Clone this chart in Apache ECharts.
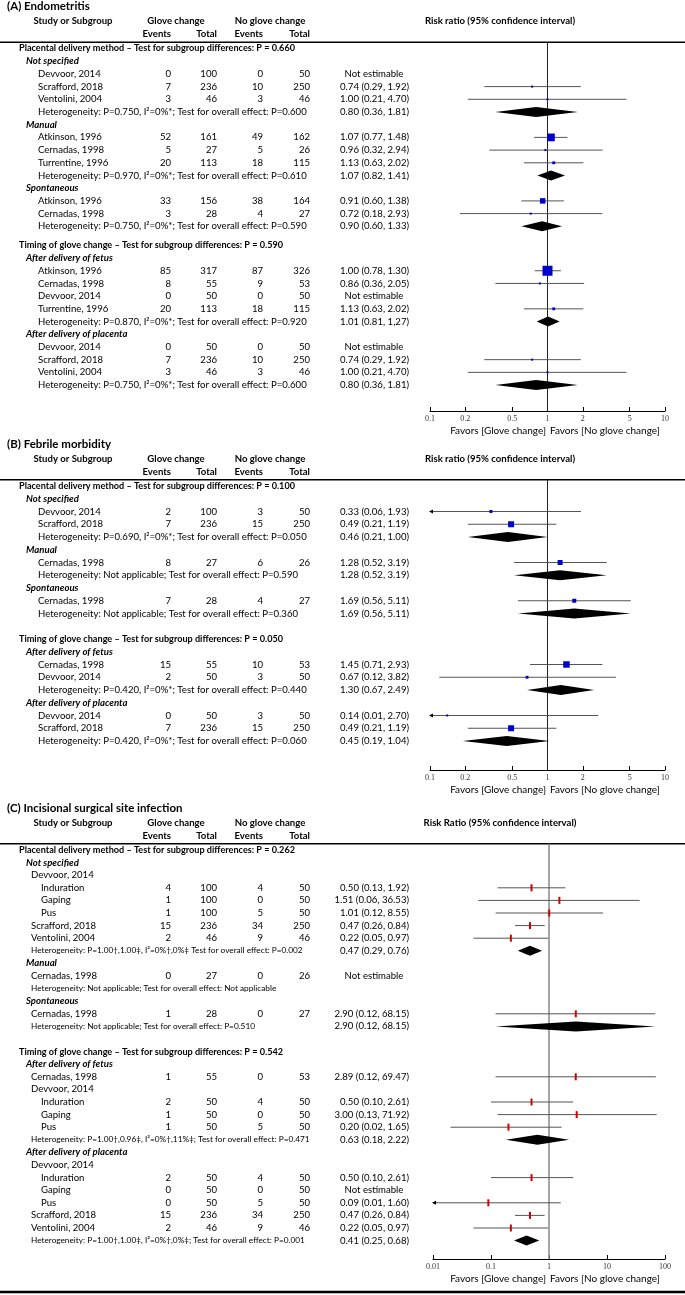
<!DOCTYPE html>
<html><head><meta charset="utf-8">
<script src="https://cdn.jsdelivr.net/npm/echarts/dist/echarts.min.js"></script>
<style>html,body{margin:0;padding:0;background:#fff}#c{width:685px;height:1295px}</style>
</head><body><div id="c"></div>
<script>
const n = null;
// ---------------- Panel A: Endometritis ----------------
const A_title = '(A) Endometritis';
const A_axisTitle = 'Risk ratio (95% confidence interval)';
const A_type = ['H','S','R','R','R','T','S','R','R','R','T','S','R','R','T','H','S','R','R','R','R','T','S','R','R','R','T'];
const A_label = ['Placental delivery method – Test for subgroup differences: P = 0.660','Not specified','Devvoor, 2014','Scrafford, 2018','Ventolini, 2004','Heterogeneity: P=0.750, I²=0%*; Test for overall effect: P=0.600','Manual','Atkinson, 1996','Cernadas, 1998','Turrentine, 1996','Heterogeneity: P=0.970, I²=0%*; Test for overall effect: P=0.610','Spontaneous','Atkinson, 1996','Cernadas, 1998','Heterogeneity: P=0.750, I²=0%*; Test for overall effect: P=0.590','Timing of glove change – Test for subgroup differences: P = 0.590','After delivery of fetus','Atkinson, 1996','Cernadas, 1998','Devvoor, 2014','Turrentine, 1996','Heterogeneity: P=0.870, I²=0%*; Test for overall effect: P=0.920','After delivery of placenta','Devvoor, 2014','Scrafford, 2018','Ventolini, 2004','Heterogeneity: P=0.750, I²=0%*; Test for overall effect: P=0.600'];
const A_gEv  = [n,n,0,7,3,n,n,52,5,20,n,n,33,3,n,n,n,85,8,0,20,n,n,0,7,3,n];
const A_gTot = [n,n,100,236,46,n,n,161,27,113,n,n,156,28,n,n,n,317,55,50,113,n,n,50,236,46,n];
const A_nEv  = [n,n,0,10,3,n,n,49,5,18,n,n,38,4,n,n,n,87,9,0,18,n,n,0,10,3,n];
const A_nTot = [n,n,50,250,46,n,n,162,26,115,n,n,164,27,n,n,n,326,53,50,115,n,n,50,250,46,n];
const A_rr = [n,n,n,0.74,1.00,0.80,n,1.07,0.96,1.13,1.07,n,0.91,0.72,0.90,n,n,1.00,0.86,n,1.13,1.01,n,n,0.74,1.00,0.80];
const A_lo = [n,n,n,0.29,0.21,0.36,n,0.77,0.32,0.63,0.82,n,0.60,0.18,0.60,n,n,0.78,0.36,n,0.63,0.81,n,n,0.29,0.21,0.36];
const A_hi = [n,n,n,1.92,4.70,1.81,n,1.48,2.94,2.02,1.41,n,1.38,2.93,1.33,n,n,1.30,2.05,n,2.02,1.27,n,n,1.92,4.70,1.81];
const A_weight = [n,n,n,4,4,n,n,60,4,8,n,n,30,4,n,n,n,100,4,n,8,n,n,n,4,4,n];
const A_ciOverride = {21:'1.01 (0.81, 1,27)'};
const A_ticks = [0.1,0.2,0.5,1,2,5,10];

// ---------------- Panel B: Febrile morbidity ----------------
const B_title = '(B) Febrile morbidity';
const B_axisTitle = 'Risk ratio (95% confidence interval)';
const B_type = ['H','S','R','R','T','S','R','T','S','R','T','H','S','R','R','T','S','R','R','T'];
const B_label = ['Placental delivery method – Test for subgroup differences: P = 0.100','Not specified','Devvoor, 2014','Scrafford, 2018','Heterogeneity: P=0.690, I²=0%*; Test for overall effect: P=0.050','Manual','Cernadas, 1998','Heterogeneity: Not applicable; Test for overall effect: P=0.590','Spontaneous','Cernadas, 1998','Heterogeneity: Not applicable; Test for overall effect: P=0.360','Timing of glove change – Test for subgroup differences: P = 0.050','After delivery of fetus','Cernadas, 1998','Devvoor, 2014','Heterogeneity: P=0.420, I²=0%*; Test for overall effect: P=0.440','After delivery of placenta','Devvoor, 2014','Scrafford, 2018','Heterogeneity: P=0.420, I²=0%*; Test for overall effect: P=0.060'];
const B_gEv  = [n,n,2,7,n,n,8,n,n,7,n,n,n,15,2,n,n,0,7,n];
const B_gTot = [n,n,100,236,n,n,27,n,n,28,n,n,n,55,50,n,n,50,236,n];
const B_nEv  = [n,n,3,15,n,n,6,n,n,4,n,n,n,10,3,n,n,3,15,n];
const B_nTot = [n,n,50,250,n,n,26,n,n,27,n,n,n,53,50,n,n,50,250,n];
const B_rr = [n,n,0.33,0.49,0.46,n,1.28,1.28,n,1.69,1.69,n,n,1.45,0.67,1.30,n,0.14,0.49,0.45];
const B_lo = [n,n,0.06,0.21,0.21,n,0.52,0.52,n,0.56,0.56,n,n,0.71,0.12,0.67,n,0.01,0.21,0.19];
const B_hi = [n,n,1.93,1.19,1.00,n,3.19,3.19,n,5.11,5.11,n,n,2.93,3.82,2.49,n,2.70,1.19,1.04];
const B_weight = [n,n,9,36,n,n,25,n,n,16,n,n,n,42,8,n,n,4,36,n];
const B_ciOverride = {};
const B_ticks = [0.1,0.2,0.5,1,2,5,10];

// ---------------- Panel C: Incisional surgical site infection ----------------
const C_title = '(C) Incisional surgical site infection';
const C_axisTitle = 'Risk Ratio (95% confidence interval)';
const C_type = ['H','S','R','R2','R2','R2','R','R','T','S','R','T','S','R','T','H','S','R','R','R2','R2','R2','T','S','R','R2','R2','R2','R','R','T'];
const C_label = ['Placental delivery method – Test for subgroup differences: P = 0.262','Not specified','Devvoor, 2014','Induration','Gaping','Pus','Scrafford, 2018','Ventolini, 2004','Heterogeneity: P=1.00†,1.00‡, I²=0%†,0%‡ Test for overall effect: P=0.002','Manual','Cernadas, 1998','Heterogeneity: Not applicable; Test for overall effect: Not applicable','Spontaneous','Cernadas, 1998','Heterogeneity: Not applicable; Test for overall effect: P=0.510','Timing of glove change – Test for subgroup differences: P = 0.542','After delivery of fetus','Cernadas, 1998','Devvoor, 2014','Induration','Gaping','Pus','Heterogeneity: P=1.00†,0.96‡, I²=0%†,11%‡; Test for overall effect: P=0.471','After delivery of placenta','Devvoor, 2014','Induration','Gaping','Pus','Scrafford, 2018','Ventolini, 2004','Heterogeneity: P=1.00†,1.00‡, I²=0%†,0%‡; Test for overall effect: P=0.001'];
const C_gEv  = [n,n,n,4,1,1,15,2,n,n,0,n,n,1,n,n,n,1,n,2,1,1,n,n,n,2,0,0,15,2,n];
const C_gTot = [n,n,n,100,100,100,236,46,n,n,27,n,n,28,n,n,n,55,n,50,50,50,n,n,n,50,50,50,236,46,n];
const C_nEv  = [n,n,n,4,0,5,34,9,n,n,0,n,n,0,n,n,n,0,n,4,0,5,n,n,n,4,0,5,34,9,n];
const C_nTot = [n,n,n,50,50,50,250,46,n,n,26,n,n,27,n,n,n,53,n,50,50,50,n,n,n,50,50,50,250,46,n];
const C_rr = [n,n,n,0.50,1.51,1.01,0.47,0.22,0.47,n,n,n,n,2.90,2.90,n,n,2.89,n,0.50,3.00,0.20,0.63,n,n,0.50,n,0.09,0.47,0.22,0.41];
const C_lo = [n,n,n,0.13,0.06,0.12,0.26,0.05,0.29,n,n,n,n,0.12,0.12,n,n,0.12,n,0.10,0.13,0.02,0.18,n,n,0.10,n,0.01,0.26,0.05,0.25];
const C_hi = [n,n,n,1.92,36.53,8.55,0.84,0.97,0.76,n,n,n,n,68.15,68.15,n,n,69.47,n,2.61,71.92,1.65,2.22,n,n,2.61,n,1.60,0.84,0.97,0.68];
const C_weight = C_rr.map(() => n);
const C_ciOverride = {};
const C_ticks = [0.01,0.1,1,10,100];

const favorsLeft = 'Favors [Glove change]';
const favorsRight = 'Favors [No glove change]';

// ---------------- layout / styling ----------------
const FAM = 'Lato, "Open Sans", sans-serif';
const mctx = document.createElement('canvas').getContext('2d');
function fit(text, weight, style, target) {
  mctx.font = style + ' ' + weight + ' 20px Lato';
  return 20 * target / mctx.measureText(text).width;
}
const F_ROW = fit('Heterogeneity: P=0.750, I²=0%*; Test for overall effect: P=0.600', 'normal', 'normal', 269);
const F_HEAD = fit('Placental delivery method – Test for subgroup differences: P = 0.660', 'bold', 'normal', 300) * 0.92;
const F_TITLE = fit('(A) Endometritis', 'bold', 'normal', 72) * 1.15;
const F_SMALL = fit('Heterogeneity: P=1.00†,1.00‡, I²=0%†,0%‡ Test for overall effect: P=0.002', 'normal', 'normal', 272);
const F_FAV = fit('Favors [Glove change]', 'normal', 'normal', 96);

const PANELS = [
  {T:{title:A_title, axisTitle:A_axisTitle, type:A_type, label:A_label, gEv:A_gEv, gTot:A_gTot, nEv:A_nEv, nTot:A_nTot, rr:A_rr, lo:A_lo, hi:A_hi, w:A_weight, ov:A_ciOverride, ticks:A_ticks},
   y0:48.5, step:12.7, gap:0.5, axisY:411, left:430, right:20, xmin:0.1, xmax:10, studyX:38, subX:46, hetX:38, hetSmall:false, marker:'square', refColor:'#222', refW:1},
  {T:{title:B_title, axisTitle:B_axisTitle, type:B_type, label:B_label, gEv:B_gEv, gTot:B_gTot, nEv:B_nEv, nTot:B_nTot, rr:B_rr, lo:B_lo, hi:B_hi, w:B_weight, ov:B_ciOverride, ticks:B_ticks},
   y0:486, step:12.75, gap:1, axisY:770, left:430, right:20, xmin:0.1, xmax:10, studyX:38, subX:46, hetX:38, hetSmall:false, marker:'square', refColor:'#222', refW:1},
  {T:{title:C_title, axisTitle:C_axisTitle, type:C_type, label:C_label, gEv:C_gEv, gTot:C_gTot, nEv:C_nEv, nTot:C_nTot, rr:C_rr, lo:C_lo, hi:C_hi, w:C_weight, ov:C_ciOverride, ticks:C_ticks},
   y0:850, step:12.6, gap:1, axisY:1259, left:433, right:20, xmin:0.01, xmax:100, studyX:31, subX:41, hetX:31, hetSmall:true, marker:'tick', refColor:'#888', refW:1.5}
];
const X_H = 19, X_S = 26;
const COL = {ev1:171, tot1:217, ev2:263, tot2:310, ci:409, ne:374};

function txt(x, y, text, o) {
  o = o || {};
  return {type:'text', x:x, y:y, silent:true, style:{text:text, fill:'#000', fontFamily:FAM,
    fontSize:o.size || F_ROW, fontWeight:o.weight || 'normal', fontStyle:o.style || 'normal',
    align:o.align || 'left', textAlign:o.align || 'left', verticalAlign:'middle', textVerticalAlign:'middle'}};
}
function fmtCI(rr, lo, hi) { return rr.toFixed(2) + ' (' + lo.toFixed(2) + ', ' + hi.toFixed(2) + ')'; }

const grids = [], xAxes = [], yAxes = [], series = [], graphics = [];

PANELS.forEach((P, pi) => {
  const T = P.T;
  const pos = []; let p = 0;
  T.type.forEach((t, i) => { if (t === 'H' && i > 0) p += P.gap; pos.push(p); p += 1; });
  const top = P.y0 - 0.5 * P.step;
  const height = P.axisY - top;
  const ymax = (P.axisY - P.y0) / P.step;
  const gT = grids.length, gF = gT + 1;
  grids.push({left:0, width:685, top:top, height:height});
  grids.push({left:P.left, width:685 - P.left - P.right, top:top, height:height});
  xAxes.push({gridIndex:gT, type:'value', min:0, max:685, show:false});
  const fmtTick = v => String(+(+v).toPrecision(3));
  xAxes.push({gridIndex:gF, type:'log', logBase:10, min:P.xmin, max:P.xmax, position:'bottom',
    axisLine:{show:true, onZero:false, lineStyle:{color:'#000', width:1}},
    axisTick:{show:true, inside:true, length:4, lineStyle:{color:'#000', width:1}, customValues:T.ticks},
    axisLabel:{show:true, margin:4, fontSize:8, fontFamily:'"Liberation Serif", serif', color:'#333', customValues:T.ticks, formatter:fmtTick},
    splitLine:{show:false}, minorTick:{show:false}});
  yAxes.push({gridIndex:gT, type:'value', inverse:true, min:-0.5, max:ymax, show:false});
  yAxes.push({gridIndex:gF, type:'value', inverse:true, min:-0.5, max:ymax, show:false});

  const items = [];
  T.type.forEach((t, i) => {
    const y = pos[i], lab = T.label[i];
    if (t === 'H') items.push({x:X_H, y:y, text:lab, o:{size:F_HEAD, weight:'bold'}});
    else if (t === 'S') items.push({x:X_S, y:y, text:lab, o:{weight:'bold', style:'italic'}});
    else if (t === 'R' || t === 'R2') {
      items.push({x:t === 'R' ? P.studyX : P.subX, y:y, text:lab, o:{}});
      [['gEv','ev1'],['gTot','tot1'],['nEv','ev2'],['nTot','tot2']].forEach(([k, c]) => {
        if (T[k][i] !== null) items.push({x:COL[c], y:y, text:String(T[k][i]), o:{align:'right'}});
      });
      if (T.rr[i] !== null) items.push({x:COL.ci, y:y, text:T.ov[i] || fmtCI(T.rr[i], T.lo[i], T.hi[i]), o:{align:'right'}});
      else if (T.gEv[i] !== null) items.push({x:COL.ne, y:y, text:'Not estimable', o:{align:'center'}});
    } else if (t === 'T') {
      items.push({x:P.hetX, y:y, text:lab, o:P.hetSmall ? {size:F_SMALL} : {}});
      if (T.rr[i] !== null) items.push({x:COL.ci, y:y, text:T.ov[i] || fmtCI(T.rr[i], T.lo[i], T.hi[i]), o:{align:'right'}});
    }
  });
  series.push({type:'custom', xAxisIndex:gT, yAxisIndex:gT, clip:false, silent:true, z:5,
    data: items.map((it, k) => [it.x, it.y, k]),
    renderItem: (params, api) => {
      const it = items[api.value(2)];
      const c = api.coord([api.value(0), api.value(1)]);
      return txt(c[0], c[1], it.text, it.o);
    }});

  series.push({type:'line', xAxisIndex:gF, yAxisIndex:gF, silent:true, symbol:'none', z:1,
    data:[[1, -0.5], [1, ymax]], lineStyle:{color:P.refColor, width:P.refW}});

  const marks = [];
  T.type.forEach((t, i) => {
    if (T.rr[i] === null) return;
    marks.push([T.rr[i], pos[i], T.lo[i], T.hi[i], T.w[i] === null ? 0 : T.w[i], t === 'T' ? 1 : 0]);
  });
  series.push({type:'custom', xAxisIndex:gF, yAxisIndex:gF, clip:false, silent:true, z:3,
    data: marks,
    renderItem: (params, api) => {
      const rr = api.value(0), y = api.value(1), lo = api.value(2), hi = api.value(3), w = api.value(4), pooled = api.value(5);
      const c = api.coord([rr, y]);
      const l = api.coord([Math.max(lo, P.xmin), y]);
      const h = api.coord([Math.min(hi, P.xmax), y]);
      const cy = c[1];
      if (pooled) {
        return {type:'polygon', shape:{points:[[l[0], cy], [c[0], cy - 5], [h[0], cy], [c[0], cy + 5]]}, style:{fill:'#000'}};
      }
      const ch = [{type:'line', shape:{x1:l[0], y1:cy, x2:h[0], y2:cy}, style:{stroke:'#555', lineWidth:1}}];
      if (lo <= P.xmin) ch.push({type:'polygon', shape:{points:[[l[0] - 1, cy], [l[0] + 3, cy - 2], [l[0] + 3, cy + 2]]}, style:{fill:'#000'}});
      if (P.marker === 'tick') {
        ch.push({type:'rect', shape:{x:c[0] - 1, y:cy - 3.5, width:2, height:7}, style:{fill:'#d40000'}});
      } else {
        const s = Math.max(2, 10 * Math.sqrt(w / 100));
        ch.push({type:'rect', shape:{x:c[0] - s / 2, y:cy - s / 2, width:s, height:s}, style:{fill:'#0000cc'}});
      }
      return {type:'group', children:ch};
    }});

  graphics.push(txt(7, P.y0 - 42, T.title, {size:F_TITLE, weight:'bold'}));
  const h1 = P.y0 - 27.5, h2 = P.y0 - 14.5;
  graphics.push(txt(73, h1, 'Study or Subgroup', {weight:'bold', align:'center'}));
  graphics.push(txt(176, h1, 'Glove change', {weight:'bold', align:'center'}));
  graphics.push(txt(270, h1, 'No glove change', {weight:'bold', align:'center'}));
  graphics.push(txt(500, h1, T.axisTitle, {weight:'bold', align:'center'}));
  graphics.push(txt(COL.ev1, h2, 'Events', {weight:'bold', align:'right'}));
  graphics.push(txt(COL.tot1, h2, 'Total', {weight:'bold', align:'right'}));
  graphics.push(txt(COL.ev2, h2, 'Events', {weight:'bold', align:'right'}));
  graphics.push(txt(COL.tot2, h2, 'Total', {weight:'bold', align:'right'}));
  graphics.push({type:'line', silent:true, shape:{x1:0, y1:top, x2:685, y2:top}, style:{stroke:'#000', lineWidth:1.5}});
  graphics.push(txt(546, P.axisY + 20, favorsLeft, {size:F_FAV, align:'right'}));
  graphics.push(txt(550, P.axisY + 20, favorsRight, {size:F_FAV, align:'left'}));
});
graphics.push({type:'line', silent:true, shape:{x1:0, y1:1292, x2:685, y2:1292}, style:{stroke:'#000', lineWidth:2.5}});

const chart = echarts.init(document.getElementById('c'), null, {renderer:'canvas'});
chart.setOption({
  animation:false,
  backgroundColor:'#fff',
  grid:grids, xAxis:xAxes, yAxis:yAxes, series:series,
  graphic:{elements:graphics}
});
</script></body></html>
